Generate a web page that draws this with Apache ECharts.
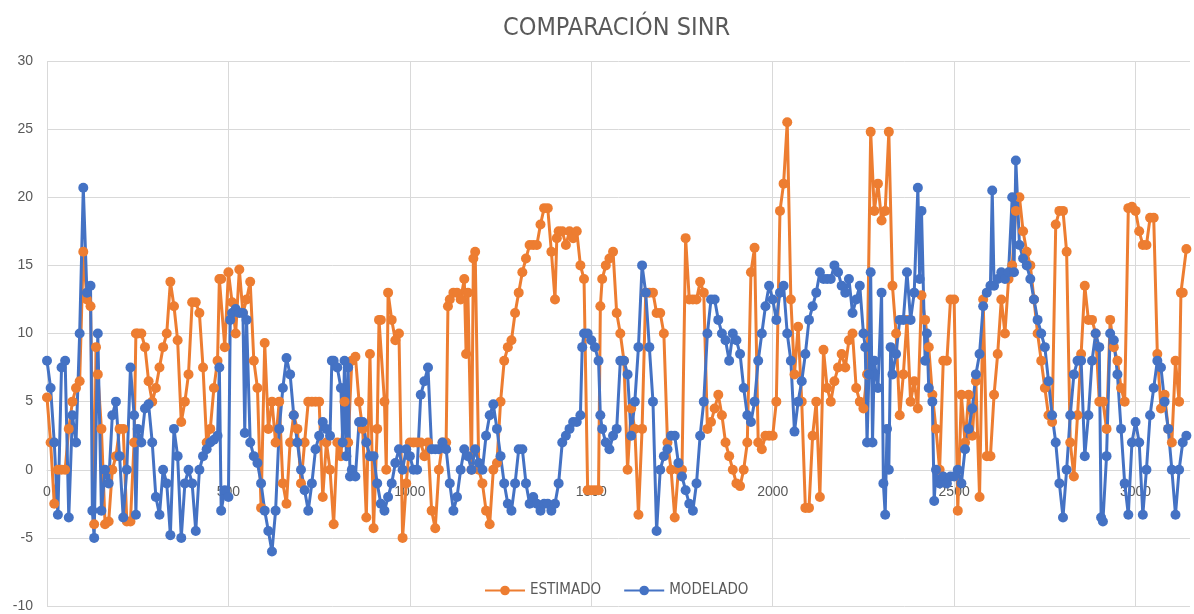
<!DOCTYPE html>
<html>
<head>
<meta charset="utf-8">
<script src="https://cdn.jsdelivr.net/npm/echarts@6/dist/echarts.min.js"></script>
<style>
  html, body { margin: 0; padding: 0; background: #fff; }
  #sinr { width: 1194px; height: 614px; }
</style>
</head>
<body>
<div id="sinr"></div>
<script>
// one value every 10 samples; a pair [a, b] = two readings inside that step (x, x+5)
var paso = 10;
var estimado = [
  5.3, 2, -2.5, 0, 0, 0, 3, 5, 6, 6.5,
  16, 12.5, 12, [-4, 9], 7, 3, -4, -3.8, 0, 1,
  3, 3, -3.8, -3.8, [2, 10], 10, 10, 9, 6.5, 5,
  6, 7.5, 9, 10, 13.8, 12, 9.5, 3.5, 5, 7,
  12.3, 12.3, 11.5, 7.5, 2, 3, 6, [8, 14], 14, 9,
  14.5, 12.3, 10, 14.7, 11.5, 12.5, 13.8, 8, 6, -2.8,
  9.3, 3, 5, 2, 5, -1, -2.5, 2, 4, 3,
  -1, 2, 5, 5, 5, 5, -2, 2, 0, -4,
  2, 1, 5, 2, 8, 8.3, 5, 3, -3.5, 8.5,
  -4.3, [3, 11], 11, [5, 0], 13, 11, 9.5, 10, -5, -1,
  2, 2, 2, 2, 1, 2, -3, -4.3, 0, 2,
  [2, 12], 12.5, 13, 13, 12.5, [14, 8.5], 13, [0, 15.5], 16, 0,
  -1, -3, -4, 0, 0.5, 5, 8, 9, 9.5, 11.5,
  13, 14.5, 15.5, 16.5, 16.5, 16.5, 18, 19.2, 19.2, 16,
  [12.5, 17], 17.5, 17.5, 16.5, 17.5, 17, 17.5, 15, 14, -1.5,
  -1.5, -1.5, [-1.5, 12], 14, 15, 15.5, 16, 11.5, 10, 8,
  0, 4.5, 3, -3.3, 3, 13, 13, 13, 11.5, 11.5,
  10, 2, 0, -3.5, 0, 0, 17, 12.5, 12.5, 12.5,
  13.8, 13, 3, 3.5, 4.5, 5.5, 4, 2, 1, 0,
  -1, -1.2, 0, 2, 14.5, 16.3, 2, 1.5, 2.5, 2.5,
  2.5, 5, 19, 21, 25.5, 12.5, 7, 10.5, 5, -2.8,
  -2.8, 2.5, 5, -2, 8.8, 6, 5, 6.5, 7.5, 8.5,
  7.5, 9.5, 10, 6, 5, 4.5, 7, 24.8, 19, 21,
  18.3, 19, 24.8, 13.5, 10, 4, 7, 11, 5, 6.5,
  4.5, 12.8, 11, 9, 5.5, 3, 0, 8, 8, 12.5,
  12.5, -3, 5.5, 2, 5.5, 2.5, 6.5, -2, 12.5, 1,
  1, 5.5, 8.5, 12.5, 10, 14, 15, 19, 20, 17.5,
  16, 15, 12.5, 10, 8, 6, 4, 3.5, 18, 19,
  19, 16, 2, -0.5, 4, 8.5, 13.5, 11, 11, 10,
  5, 5, 3, 11, 9, 8, 6, 5, 19.2, 19.3,
  19, 17.5, 16.5, 16.5, 18.5, 18.5, 8.5, 4.5, 5.5, 3,
  2, 8, [5, 13], 13, 16.2
];
var modelado = [
  8, 6, 2, -3.3, 7.5, 8, -3.5, 4, 2, 10,
  20.7, 13, [13.5, -3], -5, 10, -3, 0, -1, 4, 5,
  1, -3.5, 0, 7.5, [4, -3.3], 3, 2, 4.5, 4.8, 2,
  -2, -3.3, 0, -1, -4.8, 3, 1, -5, -1, 0,
  -1, -4.5, 0, 1, 1.5, 2, 2.2, [2.5, 7.5], -3, -1.5,
  [-2, 11], 11.5, 11.8, 11.5, [11.5, 2.7], 11, 2, 1, 0.5, -1,
  -3, -4.5, -6, -3, 3, 6, 8.2, 7, 4, 2,
  0, -1.5, -3, -1, 1.5, 2.5, 3.5, 3, [2.5, 8], 8,
  7.5, [6, 2], [8, 1], [7.5, -0.5], 0, -0.5, 3.5, 3.5, 2, 1,
  1, -1, -2.5, -3, -2, -1, 0.5, 1.5, 0, 1.5,
  1, 0, 0, 5.5, 6.5, 7.5, 1.5, 1.5, 1.5, 2,
  1.5, -1, -3, -2, 0, 1.5, 1, 0, 1.5, 0.5,
  0, 2.5, 4, 4.8, 3, 1, -1, -2.5, -3, -1,
  1.5, 1.5, -1, -2.5, -2, -2.5, -3, -2.5, -2.5, -3,
  -2.5, -1, 2, 2.5, 3, 3.5, 3.5, [4, 9], 10, 10,
  9.5, 9, [8, 4], 3, 2, 1.5, 2.5, 3, 8, 8,
  7, 2.5, 5, 9, 15, 13, 9, 5, -4.5, 0,
  1, 1.5, 2.5, 2.5, 0.5, -0.5, -1.5, -2.5, -3, -1,
  2.5, 5, 10, 12.5, 12.5, 11, 10, 9.5, 8, 10,
  9.5, 8.5, 6, 4, 3.5, 5, 8, 10, 12, 13.5,
  12.5, 11, 13, 13.5, 10, 8, 2.8, 5, 6.5, 8.5,
  11, 12, 13, 14.5, 14, 14, 14, 15, 14.5, 13.5,
  13, 14, 11.5, 12.5, 13.5, [10, 9], [2, 7], [14.5, 2], 8, 6,
  [13, -1], [-3.3, 3], [0, 9], 7, 8.5, 11, 11, 14.5, 11, 13,
  [20.7, 14], 19, [8, 10], 6, [5, -2.3], 0, -1, -0.5, -1, -0.5,
  -0.5, 0, -1, 1.5, 3, 4.5, 7, 8.5, 12, 13,
  [13.5, 20.5], 13.5, 14, 14.5, 14, 14.5, [20, 14.5], 22.7, 16.5, 15.5,
  15, 14, 12.5, 11, 10, 9, 6.5, 4, 2, -1,
  -3.5, 0, 4, 7, 8, 8, 1, 4, 8, 10,
  [9, -3.5], -3.8, 1, 10, 9.5, 7, 3, -1, -3.3, 2,
  3.5, 2, -3.3, 0, 4, 6, 8, 7.5, 5, 3,
  0, -3.3, 0, 2, 2.5
];
var nombres = ["ESTIMADO", "MODELADO"];
var colores = ["#ED7D31", "#4472C4"];

function puntos(serie) {
  var out = [];
  serie.forEach(function (v, i) {
    if (Array.isArray(v)) {
      out.push([i * paso, v[0]]);
      out.push([i * paso + paso / 2, v[1]]);
    } else {
      out.push([i * paso, v]);
    }
  });
  return out;
}

var chart = echarts.init(document.getElementById("sinr"));
var texto = "#595959";
var fuente = "'Liberation Sans Narrow', 'DejaVu Sans Condensed', sans-serif";
var option = {
  animation: false,
  backgroundColor: "#fff",
  color: colores,
  title: {
    text: "COMPARACIÓN SINR",
    left: 498,
    top: 11,
    textStyle: { color: texto, fontSize: 25, fontWeight: "normal", fontFamily: fuente }
  },
  legend: {
    data: nombres,
    left: 479,
    top: 578,
    itemWidth: 40,
    itemHeight: 12,
    itemGap: 22,
    textStyle: { color: texto, fontSize: 15, fontFamily: fuente }
  },
  grid: { left: 47, right: 4, top: 61, bottom: 8, outerBoundsMode: "none" },
  xAxis: {
    type: "value",
    min: 0,
    max: 3150,
    interval: 500,
    offset: -136, // eje X cruza en y = 0
    axisLine: { onZero: false, lineStyle: { color: "#d9d9d9", width: 1 } },
    axisTick: { show: false },
    axisLabel: {
      color: texto,
      fontSize: 14,
      margin: 15,
      showMaxLabel: false,
      formatter: function (v) { return v % 500 === 0 ? v : ""; }
    },
    splitLine: { show: true, showMaxLine: false, lineStyle: { color: "#d9d9d9", width: 1 } }
  },
  yAxis: {
    type: "value",
    min: -10,
    max: 30,
    interval: 5,
    axisLine: { show: false },
    axisTick: { show: false },
    axisLabel: { color: texto, fontSize: 14, margin: 14 },
    splitLine: { lineStyle: { color: "#d9d9d9", width: 1 } }
  },
  series: [
    {
      name: nombres[0],
      type: "line",
      data: puntos(estimado),
      symbol: "circle",
      symbolSize: 10,
      lineStyle: { width: 3, color: colores[0] },
      itemStyle: { color: colores[0] }
    },
    {
      name: nombres[1],
      type: "line",
      data: puntos(modelado),
      symbol: "circle",
      symbolSize: 10,
      lineStyle: { width: 3, color: colores[1] },
      itemStyle: { color: colores[1] }
    }
  ]
};
chart.setOption(option);
</script>
</body>
</html>
